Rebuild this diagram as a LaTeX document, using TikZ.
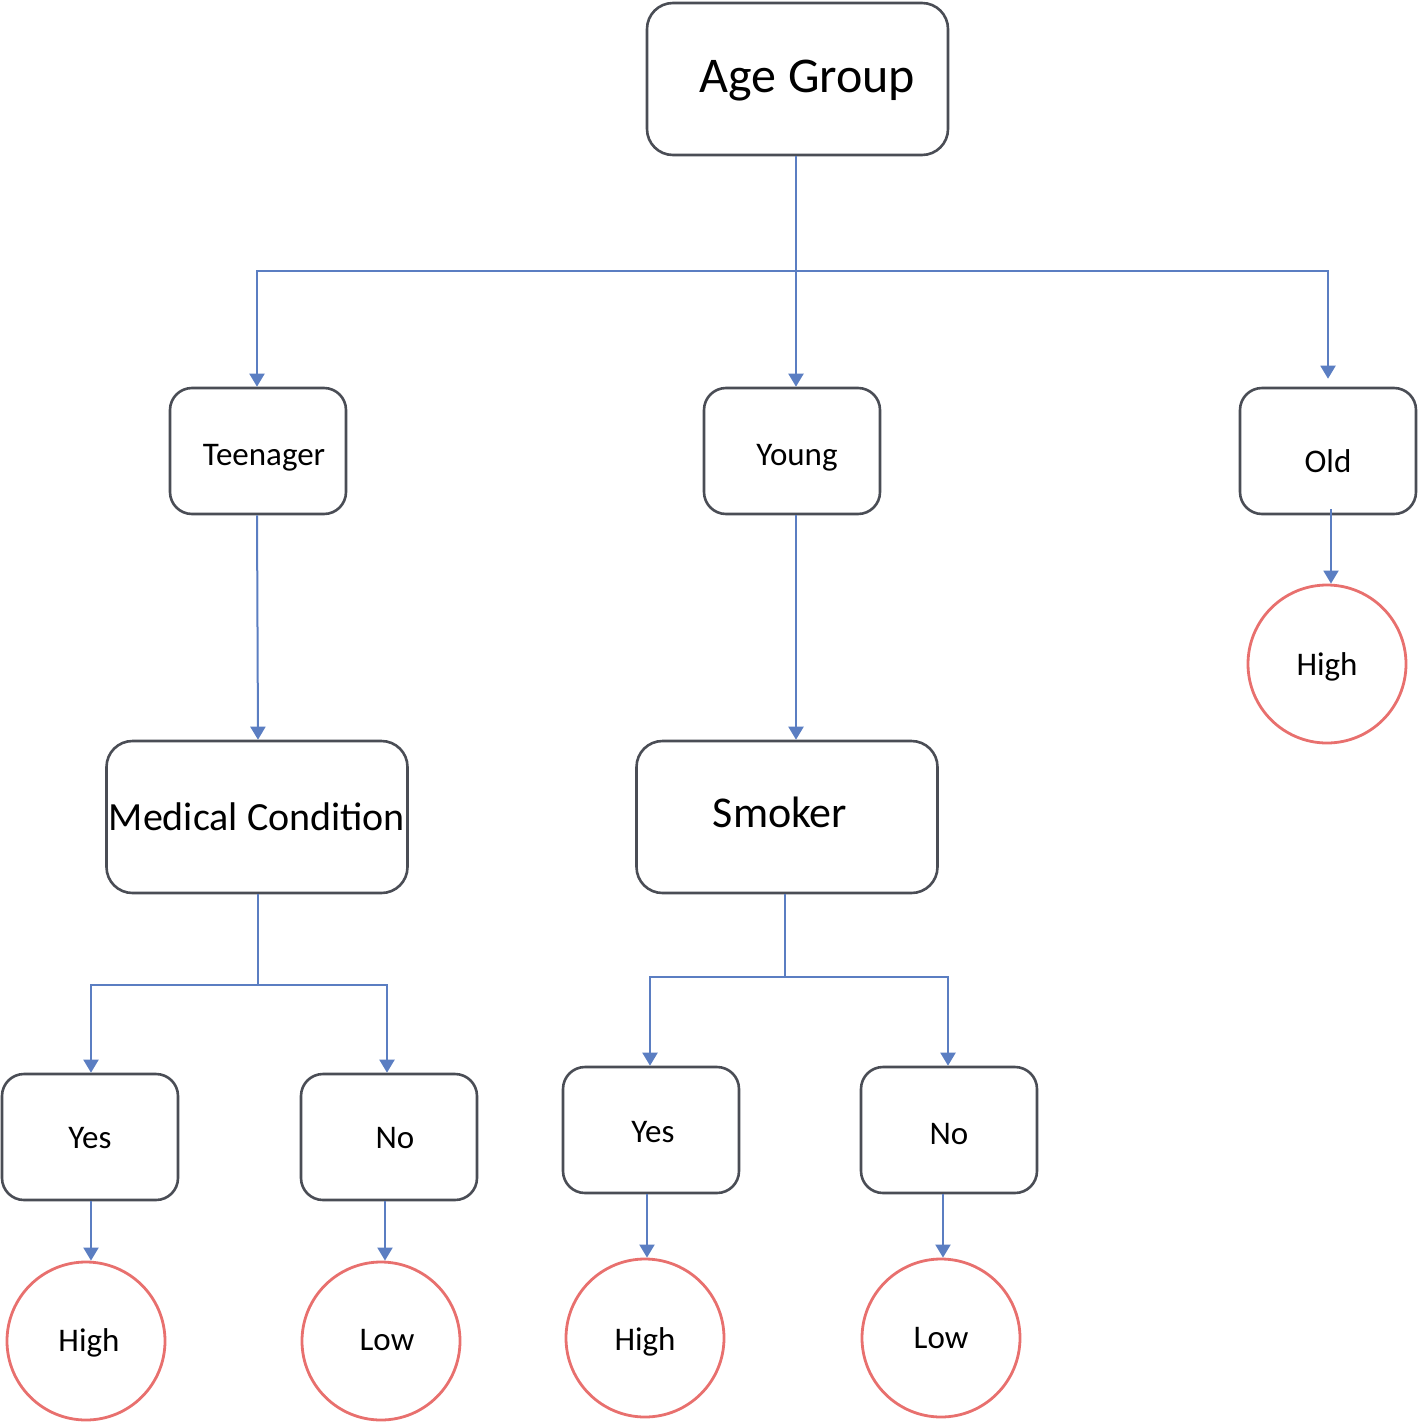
\documentclass[tikz,border=0pt]{standalone}
\usepackage{fontspec}
\setmainfont{Carlito}
\usetikzlibrary{arrows.meta}
\definecolor{boxline}{HTML}{4A4D55}
\definecolor{conn}{HTML}{5B7EC2}
\definecolor{leafline}{HTML}{E8706E}
\tikzset{
  box/.style={draw=boxline, line width=2.6pt, rounded corners=22pt, fill=white,
    minimum width=176pt, minimum height=126pt, inner sep=0pt, text depth=0pt,
    text height=28pt, font=\fontsize{33}{40}\selectfont},
  bigbox/.style={box, minimum width=301pt, minimum height=152pt, rounded corners=26pt},
  leaf/.style={draw=leafline, line width=2.8pt, circle, minimum size=158pt, inner sep=0pt,
    text depth=0pt, text height=20pt, font=\fontsize{33}{40}\selectfont},
  link/.style={draw=conn, line width=2pt},
  arr/.style={link, -{Triangle[width=15pt,length=13pt]}}
}
\begin{document}
\begin{tikzpicture}[x=1pt,y=-1pt]
\useasboundingbox (0,0) rectangle (1418,1424);
\node[bigbox, text height=26pt, font=\fontsize{50}{60}\selectfont] (age) at (797.5,79) {\hspace*{20pt}Age Group};
\node[box] (teen) at (258,451) {\hspace*{12pt}Teenager};
\node[box] (young) at (792,451) {\hspace*{10pt}Young};
\node[box, text height=42pt] (old) at (1328,451) {Old};
\node[leaf, text height=22pt] (oldhigh) at (1327,664) {High};
\node[bigbox, text height=26pt, font=\fontsize{40}{48}\selectfont] (med) at (257,817) {Medical Condition};
\node[bigbox, text height=20pt, font=\fontsize{44}{52}\selectfont] (smoker) at (787,817) {Smoker\hspace*{14pt}};
\node[box, text height=22pt] (myes) at (90,1137) {Yes};
\node[box, text height=22pt] (mno) at (389,1137) {\hspace*{12pt}No};
\node[box, text height=24pt] (syes) at (651,1130) {\hspace*{4pt}Yes};
\node[box] (sno) at (949,1130) {No};
\node[leaf] (h1) at (86,1341) {\hspace*{6pt}High};
\node[leaf, text height=18pt] (l1) at (381,1341) {\hspace*{12pt}Low};
\node[leaf, text height=24pt] (h2) at (645,1338) {High};
\node[leaf] (l2) at (941,1338) {Low};
% top level
\draw[link] (age.south -| 796,0) -- (796,271) coordinate (j1);
\draw[arr] (j1) -| (teen.north -| 257,0);
\draw[arr] (j1) -- (young.north -| 796,0);
\draw[arr] (j1) -| ([yshift=8pt]old.north);
% second level
\draw[arr] (teen.south -| 257,0) -- (med.north -| 258,0);
\draw[arr] (young.south -| 796,0) -- (smoker.north -| 796,0);
\draw[arr] ([xshift=3pt,yshift=6pt]old.south) -- ([xshift=4pt]oldhigh.north);
% medical condition
\draw[link] (med.south -| 258,0) -- (258,985) coordinate (j2);
\draw[arr] (j2) -| (myes.north -| 91,0);
\draw[arr] (j2) -| (mno.north -| 387,0);
% smoker
\draw[link] (smoker.south -| 785,0) -- (785,977) coordinate (j3);
\draw[arr] (j3) -| (syes.north -| 650,0);
\draw[arr] (j3) -| (sno.north -| 948,0);
% leaves
\draw[arr] (myes.south -| 91,0) -- (h1.north -| 91,0);
\draw[arr] (mno.south -| 385,0) -- (l1.north -| 385,0);
\draw[arr] (syes.south -| 647,0) -- (h2.north -| 647,0);
\draw[arr] (sno.south -| 943,0) -- (l2.north -| 943,0);
\end{tikzpicture}
\end{document}
